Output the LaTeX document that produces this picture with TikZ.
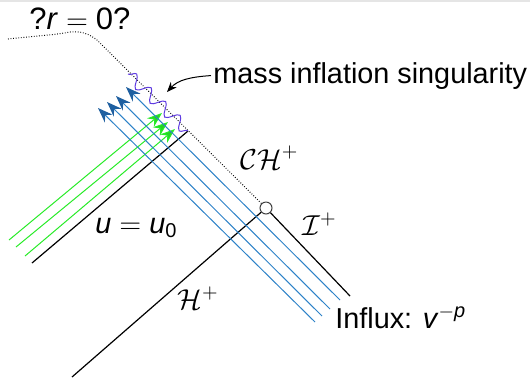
\documentclass[tikz,border=0pt]{standalone}
\usepackage{fontspec}
\setmainfont{Liberation Sans}
\usetikzlibrary{arrows.meta,decorations.pathmorphing}
\definecolor{fluxblue}{RGB}{45,130,200}
\definecolor{fluxbluedark}{RGB}{30,95,160}
\definecolor{fluxgreen}{RGB}{40,235,40}
\definecolor{wigglecol}{RGB}{95,60,225}
\begin{document}
\begin{tikzpicture}[x=0.5pt,y=-0.5pt,
  bline/.style={line width=0.6pt},
  blueray/.style={draw=fluxblue,line width=0.5pt,-{Stealth[length=7.5pt,width=5.5pt,color=fluxbluedark,fill=fluxbluedark]}},
  greenray/.style={draw=fluxgreen,line width=0.5pt,-{Stealth[length=7.5pt,width=5.5pt,color=fluxgreen,fill=fluxgreen!90!black]}},
  dotline/.style={line width=0.5pt,dash pattern=on 0.4pt off 0.9pt},
  lbl/.style={inner sep=0pt,font=\fontsize{14.4}{17}\selectfont}]
\useasboundingbox (0,0) rectangle (530,377);
\fill[gray!20] (0,0) rectangle (530,1.5);

% corner point
\node[circle,draw=black!75,fill=white,line width=0.5pt,minimum size=6pt,inner sep=0pt] (io) at (266,208) {};
\coordinate (chtop) at (97,40);
\coordinate (bump) at (70,32);
\coordinate (lefttop) at (8,39);
\coordinate (hbot) at (72,377);
\coordinate (iend) at (350,296);
\coordinate (ua) at (32,263);
\coordinate (ub) at (188,131);
\coordinate (wa) at (128,74);

% horizons
\draw[dotline] (io) -- (chtop) .. controls (88,33) and (80,31) .. (bump) .. controls (55,35) and (35,36) .. (lefttop);
\draw[bline] (io) -- (hbot);
\draw[bline] (io) -- (iend);
\draw[bline] (ua) -- (ub);

% green rays
\coordinate (g1a) at (9,240);   \coordinate (g1b) at (162,113);
\coordinate (g2a) at (16,247);  \coordinate (g2b) at (168,122);
\coordinate (g3a) at (25,256);  \coordinate (g3b) at (175,129);
\draw[greenray] (g1a) -- (g1b);
\draw[greenray] (g2a) -- (g2b);
\draw[greenray] (g3a) -- (g3b);

% blue rays
\coordinate (b1a) at (315,322); \coordinate (b1b) at (98,108);
\coordinate (b2a) at (322,316); \coordinate (b2b) at (107,102);
\coordinate (b3a) at (330,309); \coordinate (b3b) at (116,96);
\coordinate (b4a) at (340,300); \coordinate (b4b) at (126,87);
\draw[blueray] (b1a) -- (b1b);
\draw[blueray] (b2a) -- (b2b);
\draw[blueray] (b3a) -- (b3b);
\draw[blueray] (b4a) -- (b4b);

% mass inflation wiggle
\draw[wigglecol,line width=0.5pt,decorate,decoration={snake,segment length=10pt,amplitude=3pt}] (wa) -- (ub);

% labels
\node[lbl,anchor=base west,font=\fontsize{15.5}{18}\selectfont] (rq) at (29,29) {?\textit{r}${}={}$0?};
\node[lbl,anchor=base west,inner sep=1pt] (mlab) at (211,83) {mass inflation singularity};
\coordinate (atip) at (167,92);
\draw[line width=0.5pt,-{Stealth[length=5pt,width=4pt]}] (mlab.west) .. controls (190,77) and (178,80) .. (atip);
\node[lbl,anchor=base west] (chl) at (240,169) {$\mathcal{CH}^+$};
\node[lbl,anchor=base west] (uu) at (95,233) {\textit{u}${}={}$\textit{u}\textsubscript{0}};
\node[lbl,anchor=base west] (hl) at (177,309) {$\mathcal{H}^+$};
\node[lbl,anchor=base west] (il) at (302,235) {$\mathcal{I}^+$};
\node[lbl,anchor=base west] (infl) at (335,328) {Influx: \textit{v}\textsuperscript{$-$\textit{p}}};
\end{tikzpicture}
\end{document}
